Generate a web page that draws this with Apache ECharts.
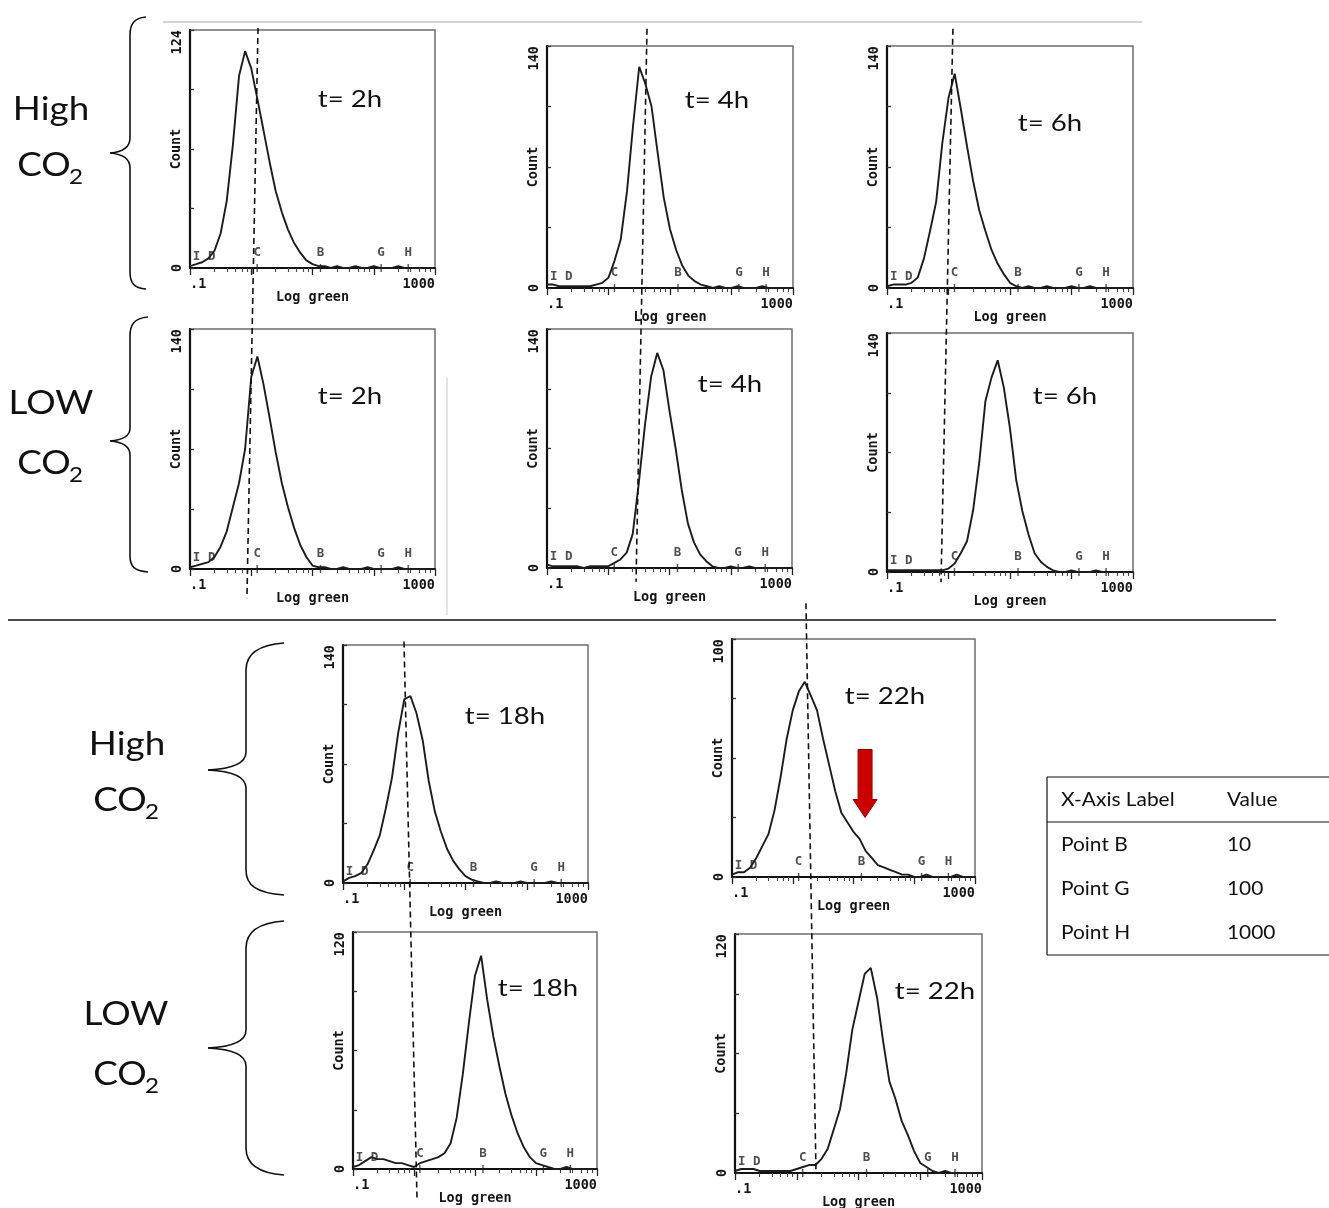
<!DOCTYPE html>
<html><head><meta charset="utf-8">
<script src="https://cdn.jsdelivr.net/npm/echarts@6/dist/echarts.min.js"></script>
<style>html,body{margin:0;padding:0;background:#fff}#c{width:1329px;height:1208px}</style>
</head><body><div id="c"></div>
<script>
// ---------------- DATA ----------------
// histogram channels (Log green), 0.1-decade bins from 0.1 to 1000
const xBins = [0.1,0.126,0.158,0.2,0.251,0.316,0.398,0.501,0.631,0.794,
  1,1.26,1.58,2,2.51,3.16,3.98,5.01,6.31,7.94,
  10,12.6,15.8,20,25.1,31.6,39.8,50.1,63.1,79.4,
  100,126,158,200,251,316,398,501,631,794,1000];

const countsHigh2h  = [1,2,3,5,9,18,35,64,100,113, 104,88,72,55,40,29,20,13,8,4, 2,1,1,0,1,0,0,1,0,0, 1,0,0,0,1,0,0,0,0,0, 0];
const countsHigh4h  = [2,2,1,1,1,1,1,1,2,3, 6,16,28,56,94,128,118,105,78,52, 34,22,13,7,4,2,1,0,1,0, 0,1,0,0,0,1,0,0,0,0, 0];
const countsHigh6h  = [1,2,2,2,3,6,17,33,50,84, 110,124,104,82,62,45,33,22,14,8, 3,1,0,1,0,0,1,0,0,0, 1,0,0,1,0,0,0,0,0,0, 0];
const countsLow2h   = [1,2,3,4,7,13,22,36,50,70, 112,124,108,88,68,50,36,24,14,7, 2,1,1,0,0,1,0,0,0,1, 0,0,0,0,1,0,0,0,0,0, 0];
const countsLow4h   = [2,1,1,1,1,1,0,1,1,1, 1,3,5,9,20,50,84,112,126,116, 92,70,46,26,15,8,4,1,0,0, 1,0,0,1,0,0,0,0,0,0, 0];
const countsLow6h   = [1,1,1,1,1,1,1,1,1,1, 2,5,11,18,36,64,100,114,124,108, 84,54,36,22,11,6,3,1,0,0, 1,0,0,0,1,0,0,0,0,0, 0];
const countsHigh18h = [1,3,4,6,11,19,28,44,62,88, 108,110,100,84,60,42,30,20,13,8, 4,2,1,0,0,1,0,0,0,1, 0,0,0,0,1,0,0,0,0,0, 0];
const countsHigh22h = [1,2,2,4,8,13,18,28,42,58, 70,78,82,76,70,58,47,36,27,23, 19,16,11,8,5,4,3,2,1,1, 0,0,1,0,0,0,0,1,0,0, 0];
const countsLow18h  = [1,2,4,6,5,5,4,3,3,2, 1,3,4,5,6,8,13,26,48,74, 98,108,86,67,52,38,27,18,11,6, 3,2,1,0,0,1,0,0,0,0, 0];
const countsLow22h  = [1,2,2,2,1,1,1,1,1,1, 2,3,4,4,7,12,22,32,50,72, 86,100,103,88,66,46,37,26,19,11, 5,3,1,0,1,0,0,0,0,0, 0];

const panelCounts = [countsHigh2h,countsHigh4h,countsHigh6h,countsLow2h,countsLow4h,countsLow6h,
                     countsHigh18h,countsHigh22h,countsLow18h,countsLow22h];
const panelTimes  = ['t= 2h','t= 4h','t= 6h','t= 2h','t= 4h','t= 6h','t= 18h','t= 22h','t= 18h','t= 22h'];
const panelYMax   = [124,140,140,140,140,140,140,100,120,120];

const markerNames  = ['I D','C','B','G','H'];
const markerValues = [0.17,1.25,13.5,132,365];

const groupNames = ['High','LOW','High','LOW'];

const tableHeader = ['X-Axis Label','Value'];
const tableLabels = ['Point B','Point G','Point H'];
const tableValues = ['10','100','1000'];

// dashed guide lines: [panel, x, y] -> [panel, x, y]
const guideFrom = [[0,1.29,125],[1,4.23,150],[2,1.18,150],[6,0.99,142],[7,1.65,115]];
const guideTo   = [[3,0.85,-17],[4,2.84,-8],[5,0.755,-6],[8,1.12,-15],[9,2.05,0.5]];
// red arrow tip (panel, x, y)
const arrowTip = [7,15.5,25];

// ---------------- LAYOUT ----------------
const panels = [
 {L:190,T:30, W:245,H:238, tx:350, ty:99},
 {L:547,T:46, W:246,H:242, tx:717, ty:100},
 {L:887,T:46, W:246,H:242, tx:1050,ty:123},
 {L:190,T:329,W:245,H:240, tx:350, ty:396},
 {L:547,T:329,W:245,H:239, tx:730, ty:384},
 {L:887,T:333,W:246,H:239, tx:1065,ty:396},
 {L:343,T:645,W:245,H:238, tx:505, ty:716},
 {L:732,T:639,W:243,H:238, tx:885, ty:696},
 {L:353,T:932,W:244,H:237, tx:538, ty:988},
 {L:735,T:934,W:247,H:239, tx:935, ty:991}
];
const groupLayout = [
 {x:51, y:110, cx:44, cy:166, sx:76, sy:177},
 {x:51, y:404, cx:44, cy:464, sx:76, sy:475},
 {x:127,y:745, cx:120,cy:801, sx:152,sy:812},
 {x:126,y:1015,cx:120,cy:1075,sx:152,sy:1086}
];
const braces = [
 'M146,17 C134,18 130,24 130,35 L130,138 C130,148 122,152 110,153 C122,154 130,158 130,168 L130,272 C130,283 134,288 146,289',
 'M148,317 C134,318 130,325 130,336 L130,428 C130,437 122,440 110,441 C122,442 130,446 130,455 L130,556 C130,566 134,571 148,572',
 'M284,643 C256,645 246,655 246,670 L246,752 C246,764 230,769 208,770 C230,771 246,776 246,788 L246,870 C246,885 256,893 284,895',
 'M284,921 C256,923 246,933 246,948 L246,1030 C246,1042 230,1047 208,1048 C230,1049 246,1054 246,1066 L246,1148 C246,1163 256,1173 284,1175'
];

const MONO = "'DejaVu Sans Mono', monospace";
const SANS = "Lato, 'Open Sans', sans-serif";
const monoStyle = {fontFamily:MONO, fontWeight:'bold', fontSize:13.5, color:'#151515'};

const grids=[], xAxes=[], yAxes=[], series=[];
panels.forEach((p,k)=>{
  const M = panelYMax[k];
  grids.push({left:p.L, top:p.T, width:p.W, height:p.H, show:true, borderColor:'#6e6e6e', borderWidth:1.5,
              backgroundColor:'rgba(0,0,0,0)', containLabel:false, outerBoundsMode:'none'});
  xAxes.push({gridIndex:k, type:'log', logBase:10, min:0.1, max:1000,
    axisLine:{show:true, onZero:false, lineStyle:{color:'#111', width:2}},
    axisTick:{show:true, length:7, lineStyle:{color:'#222', width:1.3}},
    minorTick:{show:true, splitNumber:6, length:4, lineStyle:{color:'#444', width:1.1}},
    splitLine:{show:false}, minorSplitLine:{show:false},
    axisLabel:Object.assign({show:true, margin:9, showMinLabel:true, showMaxLabel:true,
      alignMinLabel:'left', alignMaxLabel:'right',
      formatter:(v)=> v<0.5 ? '.1' : (v>500 ? '1000' : '')}, monoStyle),
    name:'Log green', nameLocation:'middle', nameGap:22, nameMoveOverlap:false,
    nameTextStyle:Object.assign({}, monoStyle)
  });
  yAxes.push({gridIndex:k, type:'value', min:0, max:M, interval:M/4,
    axisLine:{show:true, onZero:false, lineStyle:{color:'#111', width:2.2}},
    axisTick:{show:true, inside:true, length:4, lineStyle:{color:'#333', width:1.3}},
    splitLine:{show:false},
    axisLabel:Object.assign({rotate:90, margin:6, showMinLabel:true, showMaxLabel:true,
      alignMinLabel:'center', alignMaxLabel:'right',
      formatter:(v)=> v===0 ? '0' : (v===M ? String(M) : '')}, monoStyle),
    name:'Count', nameLocation:'middle', nameRotate:90, nameGap:7, nameMoveOverlap:false,
    nameTextStyle:Object.assign({}, monoStyle)
  });
  series.push({type:'line', xAxisIndex:k, yAxisIndex:k, silent:true, z:3,
    data:xBins.map((x,i)=>[x, panelCounts[k][i]]),
    symbol:'none', lineStyle:{color:'#1c1c1c', width:1.9}});
  series.push({type:'scatter', xAxisIndex:k, yAxisIndex:k, silent:true, z:4,
    data:markerNames.map((n,j)=>({name:n, value:[markerValues[j],0], symbolSize: j===0 ? 0 : [1.4,8]})),
    symbol:'rect', itemStyle:{color:'#222'},
    label:{show:true, position:'top', distance:5, formatter:'{b}', fontFamily:MONO, fontWeight:'bold', fontSize:12.5, color:'#222'}});
});

const option = {
  backgroundColor:'#ffffff',
  animation:false,
  grid:grids, xAxis:xAxes, yAxis:yAxes, series:series
};

const chart = echarts.init(document.getElementById('c'), null, {renderer:'canvas', width:1329, height:1208});
chart.setOption(option);

// ---------------- ANNOTATIONS ----------------
function txt(x,y,s,size,opt){
  opt = opt||{};
  return {type:'text', x:x, y:y, scaleX:opt.sx||1, silent:true, z:opt.z||20,
    style:{text:s, fontFamily:opt.font||SANS, fontSize:size, fontWeight:opt.weight||'normal',
      fill:opt.fill||'#111', align:opt.align||'center', verticalAlign:'middle'}};
}
function lineEl(x1,y1,x2,y2,st,z){
  return {type:'line', silent:true, z:z||20, shape:{x1:x1,y1:y1,x2:x2,y2:y2}, style:st};
}
// turn a simple M/L/C path string into line + bezierCurve graphic elements
function pathEls(d, st){
  const tk = d.match(/[MLC]|-?\d+(\.\d+)?/g);
  const out = []; let cx=0, cy=0, i=0, cmd='M';
  while(i<tk.length){
    if(/[MLC]/.test(tk[i])){ cmd = tk[i]; i++; }
    const n = k=>parseFloat(tk[i+k]);
    if(cmd==='M'){ cx=n(0); cy=n(1); i+=2; }
    else if(cmd==='L'){ out.push(lineEl(cx,cy,n(0),n(1),st)); cx=n(0); cy=n(1); i+=2; }
    else { out.push({type:'bezierCurve', silent:true, z:20,
        shape:{x1:cx,y1:cy,cpx1:n(0),cpy1:n(1),cpx2:n(2),cpy2:n(3),x2:n(4),y2:n(5)}, style:Object.assign({fill:null},st)});
      cx=n(4); cy=n(5); i+=6; }
  }
  return out;
}
const g = [];
const black = {stroke:'#111', lineWidth:1.6};
// faint scan lines
g.push(lineEl(163,22,1142,22,{stroke:'#d4d4d4', lineWidth:2},1));
g.push(lineEl(447,378,447,615,{stroke:'#dcdcdc', lineWidth:1.5},1));
// separator
g.push(lineEl(8,620,1276,620,black,20));
// braces and group labels
braces.forEach(d=>pathEls(d, black).forEach(e=>g.push(e)));
groupNames.forEach((n,i)=>{
  const L = groupLayout[i];
  g.push(txt(L.x, L.y, n, 32, {sx:1.15}));
  g.push(txt(L.cx, L.cy, 'CO', 32, {sx:1.15}));
  g.push(txt(L.sx, L.sy, '2', 21, {sx:1.15}));
});
// time labels
panels.forEach((p,k)=> g.push(txt(p.tx, p.ty, panelTimes[k], 24, {sx:1.15})));
// table
const tline = {stroke:'#111', lineWidth:1.2};
g.push(lineEl(1047,777,1329,777,tline));
g.push(lineEl(1047,822,1329,822,tline));
g.push(lineEl(1047,955,1329,955,tline));
g.push(lineEl(1047,777,1047,955,tline));
g.push(txt(1061, 800, tableHeader[0], 19, {align:'left', sx:1.1}));
g.push(txt(1227, 800, tableHeader[1], 19, {align:'left', sx:1.1}));
tableLabels.forEach((s,i)=>{
  g.push(txt(1061, 845+44*i, s, 19, {align:'left', sx:1.1}));
  g.push(txt(1227, 845+44*i, tableValues[i], 19, {align:'left', sx:1.1}));
});
// dashed guide lines through the library's own scales
guideFrom.forEach((f,i)=>{
  const t = guideTo[i];
  const a = chart.convertToPixel({gridIndex:f[0]}, [f[1], f[2]]);
  const b = chart.convertToPixel({gridIndex:t[0]}, [t[1], t[2]]);
  g.push(lineEl(a[0],a[1],b[0],b[1],{stroke:'#111', lineWidth:1.6, lineDash:[6,4]},30));
});
// red arrow
const tp = chart.convertToPixel({gridIndex:arrowTip[0]}, [arrowTip[1], arrowTip[2]]);
const ax = tp[0], ay = tp[1];
g.push({type:'polygon', silent:true, z:40,
  shape:{points:[[ax-7,ay-68],[ax+7,ay-68],[ax+7,ay-18],[ax+12,ay-18],[ax,ay],[ax-12,ay-18],[ax-7,ay-18]]},
  style:{fill:'#cc0000', stroke:'#990000', lineWidth:1}});

chart.setOption({graphic:g});
</script>
</body></html>
